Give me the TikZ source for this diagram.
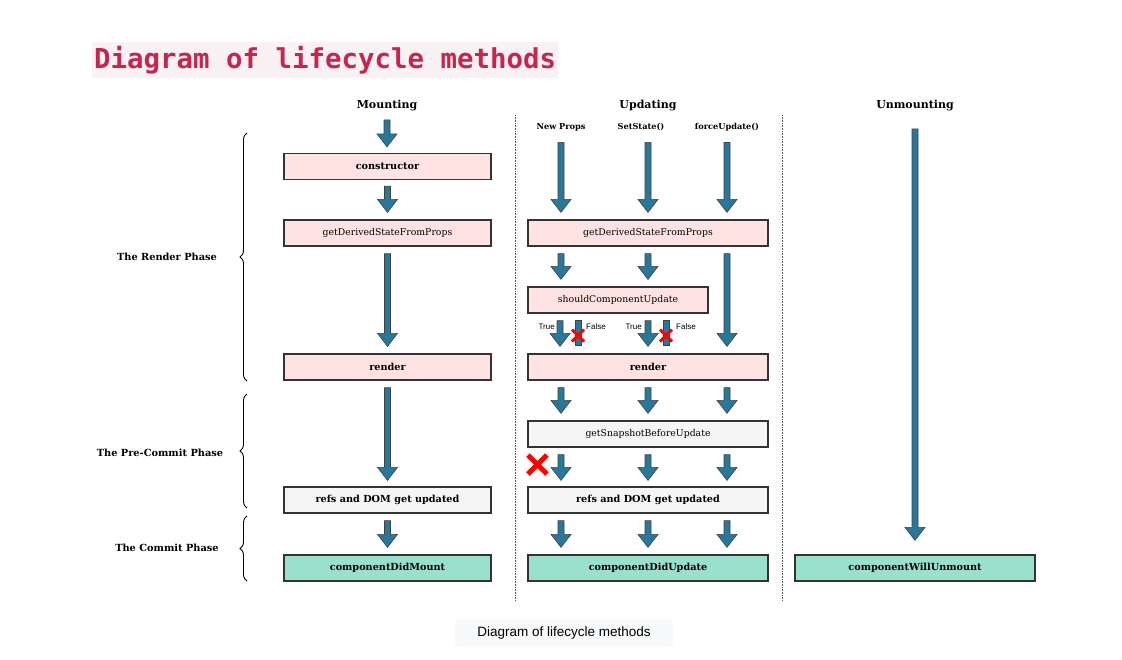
\documentclass[tikz,border=0pt]{standalone}
\usepackage{fontspec}
\setmainfont{DejaVu Serif}
\setsansfont{Liberation Sans}
\setmonofont{DejaVu Sans Mono}
\usepackage{tikz}
\usetikzlibrary{calc,positioning,shapes.misc,decorations.pathreplacing}
\definecolor{lpink}{HTML}{FFE3E3}
\definecolor{lgrey}{HTML}{F5F5F5}
\definecolor{lteal}{HTML}{9BDFCD}
\definecolor{arrblue}{HTML}{2A7899}
\definecolor{titlered}{HTML}{C7254E}
\definecolor{titlebg}{HTML}{F9F2F4}
\definecolor{capbg}{HTML}{F8F9FA}
\tikzset{
  lbox/.style={draw=black!80, line width=1.2pt, minimum height=26pt,
               inner sep=0pt, font=\fontsize{9.3}{10}\selectfont},
  mbox/.style={lbox, minimum width=207pt},
  ubox/.style={lbox, minimum width=240pt},
  boldtxt/.style={font=\fontsize{9.7}{10}\selectfont\bfseries},
  pinkb/.style={fill=lpink},
  greyb/.style={fill=lgrey},
  tealb/.style={fill=lteal},
  colhead/.style={font=\fontsize{11}{12}\selectfont\bfseries},
  subhead/.style={font=\fontsize{8.2}{9}\selectfont\bfseries},
  phase/.style={font=\fontsize{9.8}{10}\selectfont\bfseries},
  tflbl/.style={font=\sffamily\fontsize{8}{9}\selectfont, inner sep=0pt},
  blk/.style={fill=arrblue, draw=black!75, line width=0.6pt},
  redx/.style={cross out, draw=red, line width=3pt, minimum size=9pt, inner sep=0pt},
  sep/.style={densely dotted, gray!70!black, line width=0.6pt},
  phbrace/.style={decorate, decoration={brace, amplitude=7pt}, line width=0.9pt},
}
% block arrow going down from #1 to #2 (same x)
\newcommand\blockarrow[2]{%
  \draw[blk] let \p1=#1, \p2=#2 in
    (\x1-3pt,\y1) -- (\x1-3pt,\y2+13pt) -- (\x1-10pt,\y2+13pt) -- (\x1,\y2)
    -- (\x1+10pt,\y2+13pt) -- (\x1+3pt,\y2+13pt) -- (\x1+3pt,\y1) -- cycle;}
% shaft only (no head)
\newcommand\blockshaft[2]{%
  \draw[blk] let \p1=#1, \p2=#2 in
    (\x1-3pt,\y1) rectangle (\x1+3pt,\y2);}

\begin{document}
\begin{tikzpicture}[x=1pt,y=-1pt]
  \useasboundingbox (0,0) rectangle (1122,660);

  % title
  \node[fill=titlebg, text=titlered, inner xsep=2pt, inner ysep=4pt,
        font=\ttfamily\bfseries\fontsize{27.4}{28}\selectfont, anchor=west]
       (title) at (92,60) {Diagram of lifecycle methods};

  % column headers
  \node[colhead] (mount) at (387,106) {Mounting};
  \node[colhead] (upd) at (648,106) {Updating};
  \node[colhead] (unmount) at (915,106) {Unmounting};
  \node[subhead] (np) at (561,127) {New Props};
  \node[subhead] (ss) at (641,127) {SetState()};
  \node[subhead] (fu) at (727,127) {forceUpdate()};

  % separators
  \coordinate (sepA) at (515,115);
  \coordinate (sepB) at (782,115);
  \draw[sep] (sepA) -- ++(0,486);
  \draw[sep] (sepB) -- ++(0,486);

  % mounting column
  \node[mbox, pinkb, boldtxt] (ctor) at (387.5,166.5) {constructor};
  \node[mbox, pinkb] (gdM) at (387.5,233) {getDerivedStateFromProps};
  \node[mbox, pinkb, boldtxt] (rndM) at (387.5,367) {render};
  \node[mbox, greyb, boldtxt] (domM) at (387.5,500) {refs and DOM get updated};
  \node[mbox, tealb, boldtxt] (didM) at (387.5,568) {componentDidMount};

  % updating column
  \node[ubox, pinkb] (gdU) at (648,233) {getDerivedStateFromProps};
  \node[lbox, pinkb, minimum width=180pt] (scu) at (618,300) {shouldComponentUpdate};
  \node[ubox, pinkb, boldtxt] (rndU) at (648,367) {render};
  \node[ubox, greyb] (snap) at (648,434) {getSnapshotBeforeUpdate};
  \node[ubox, greyb, boldtxt] (domU) at (648,500) {refs and DOM get updated};
  \node[ubox, tealb, boldtxt] (didU) at (648,568) {componentDidUpdate};

  % unmounting column
  \node[ubox, tealb, boldtxt] (willU) at (915,568) {componentWillUnmount};

  % mounting arrows
  \blockarrow{($(mount.south)+(0,5)$)}{($(ctor.north)+(0,-6)$)}
  \blockarrow{($(ctor.south)+(0,6)$)}{($(gdM.north)+(0,-7)$)}
  \blockarrow{($(gdM.south)+(0,7)$)}{($(rndM.north)+(0,-7)$)}
  \blockarrow{($(rndM.south)+(0,7)$)}{($(domM.north)+(0,-6)$)}
  \blockarrow{($(domM.south)+(0,7)$)}{($(didM.north)+(0,-7)$)}

  % updating arrows
  \blockarrow{($(np.south)+(0,8)$)}{($(gdU.north -| np)+(0,-7)$)}
  \blockarrow{($(np.south -| upd)+(0,8)$)}{($(gdU.north -| upd)+(0,-7)$)}
  \blockarrow{($(fu.south)+(0,8)$)}{($(gdU.north -| fu)+(0,-7)$)}
  \blockarrow{($(gdU.south -| np)+(0,7)$)}{($(scu.north -| np)+(0,-7)$)}
  \blockarrow{($(gdU.south -| upd)+(0,7)$)}{($(scu.north -| upd)+(0,-7)$)}
  \blockarrow{($(gdU.south -| fu)+(0,7)$)}{($(rndU.north -| fu)+(0,-7)$)}

  % true / false below shouldComponentUpdate
  \coordinate (tA) at ($(scu.south -| np)+(-1,0)$);
  \coordinate (fA) at ($(scu.south -| np)+(17,0)$);
  \coordinate (tB) at ($(scu.south -| upd)$);
  \coordinate (fB) at ($(scu.south -| upd)+(18,0)$);
  \blockarrow{($(tA)+(0,7)$)}{($(rndU.north -| tA)+(0,-7)$)}
  \blockshaft{($(fA)+(0,7)$)}{($(rndU.north -| fA)+(0,-8)$)}
  \blockarrow{($(tB)+(0,7)$)}{($(rndU.north -| tB)+(0,-7)$)}
  \blockshaft{($(fB)+(0,7)$)}{($(rndU.north -| fB)+(0,-8)$)}
  \node[redx] (xA) at ($(fA)+(0,22)$) {};
  \node[redx] (xB) at ($(fB)+(0,22)$) {};
  \node[tflbl, anchor=east] (trA) at ($(tA)+(-5,13)$) {True};
  \node[tflbl, anchor=west] (flA) at ($(fA)+(8,13)$) {False};
  \node[tflbl, anchor=east] (trB) at ($(tB)+(-6,13)$) {True};
  \node[tflbl, anchor=west] (flB) at ($(fB)+(10,13)$) {False};

  \foreach \c in {np, upd, fu} {
    \blockarrow{($(rndU.south -| \c)+(0,7)$)}{($(snap.north -| \c)+(0,-7)$)}
    \blockarrow{($(snap.south -| \c)+(0,7)$)}{($(domU.north -| \c)+(0,-6)$)}
    \blockarrow{($(domU.south -| \c)+(0,7)$)}{($(didU.north -| \c)+(0,-7)$)}
  }
  \node[redx, line width=5pt, minimum size=14pt] (xS) at ($(snap.south west)+(10,17)$) {};

  % unmounting arrow
  \blockarrow{($(unmount.south)+(0,14)$)}{($(willU.north)+(0,-14)$)}

  % phases
  \coordinate (brR1) at (247,133);
  \coordinate (brR2) at (247,381);
  \coordinate (brP1) at (247,394);
  \coordinate (brP2) at (247,508);
  \coordinate (brC1) at (247,516);
  \coordinate (brC2) at (247,581);
  \draw[phbrace] (brR2) -- (brR1);
  \draw[phbrace] (brP2) -- (brP1);
  \draw[phbrace] (brC2) -- (brC1);
  \node[phase] (rphase) at (167,257) {The Render Phase};
  \node[phase] (pphase) at (160,453) {The Pre-Commit Phase};
  \node[phase] (cphase) at (167,548) {The Commit Phase};

  % caption
  \node[fill=capbg, rounded corners=3pt, minimum width=218pt, minimum height=28pt,
        font=\sffamily\fontsize{13.5}{14}\selectfont] (cap) at (564,633) {Diagram of lifecycle methods};
\end{tikzpicture}
\end{document}
